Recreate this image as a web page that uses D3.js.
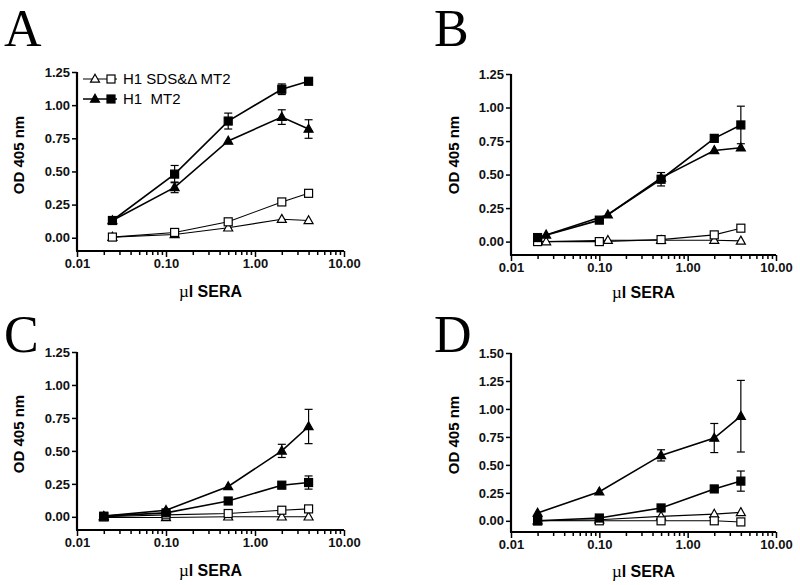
<!DOCTYPE html>
<html>
<head>
<meta charset="utf-8">
<script src="https://cdn.jsdelivr.net/npm/d3@7"></script>
<style>
  body { margin: 0; background: #fff; }
  svg { display: block; }
</style>
</head>
<body>
<svg id="chart" width="800" height="585"></svg>
<script>
// ---------------- DATA ----------------
const panelLetters = ["A", "B", "C", "D"];
const yTicksABC = [0, 0.25, 0.5, 0.75, 1.0, 1.25];
const yTicksD = [0, 0.25, 0.5, 0.75, 1.0, 1.25, 1.5];
const xTickLabels = ["0.01", "0.10", "1.00", "10.00"];
const legendLabels = ["H1 SDS&\u0394 MT2", "H1  MT2"];

// Panel A
const xA = [0.025, 0.125, 0.5, 2, 4];
const A_openTri = [0.005, 0.025, 0.075, 0.14, 0.13];
const A_openSq = [0.005, 0.04, 0.12, 0.27, 0.335];
const A_fillTri = [0.13, 0.38, 0.73, 0.91, 0.82];
const A_fillTriErr = [0, 0.04, 0, 0.055, 0.07];
const A_fillSq = [0.13, 0.48, 0.88, 1.12, 1.18];
const A_fillSqErr = [0, 0.065, 0.06, 0.04, 0];

// Panel B
const xB_sq = [0.02, 0.1, 0.5, 2, 4];
const xB_tri = [0.025, 0.125, 0.5, 2, 4];
const B_openTri = [0.0, 0.01, 0.01, 0.01, 0.005];
const B_openSq = [0.0, 0.0, 0.015, 0.05, 0.10];
const B_fillTri = [0.05, 0.2, 0.475, 0.68, 0.70];
const B_fillTriErr = [0, 0, 0, 0, 0];
const B_fillSq = [0.03, 0.16, 0.465, 0.77, 0.87];
const B_fillSqErr = [0, 0, 0.05, 0, 0.14];

// Panel C
const xC = [0.02, 0.1, 0.5, 2, 4];
const C_openTri = [-0.005, -0.005, 0.0, 0.0, 0.0];
const C_openSq = [0.0, 0.015, 0.025, 0.05, 0.06];
const C_fillTri = [0.005, 0.05, 0.23, 0.50, 0.685];
const C_fillTriErr = [0, 0, 0, 0.05, 0.13];
const C_fillSq = [0.005, 0.03, 0.12, 0.24, 0.26];
const C_fillSqErr = [0, 0, 0, 0.02, 0.05];

// Panel D
const xD = [0.02, 0.1, 0.5, 2, 4];
const D_openTri = [0.0, 0.01, 0.04, 0.06, 0.075];
const D_openSq = [0.0, 0.0, 0.0, 0.0, -0.01];
const D_fillTri = [0.07, 0.26, 0.585, 0.74, 0.935];
const D_fillTriErr = [0, 0, 0.05, 0.13, 0.32];
const D_fillSq = [0.0, 0.025, 0.115, 0.285, 0.355];
const D_fillSqErr = [0, 0, 0, 0, 0.09];

// ---------------- LAYOUT ----------------
const panels = [
  { letter: panelLetters[0], L: 77, R: 344, T: 72, B: 251, ymax: 1.25, yticks: yTicksABC, legend: true,
    series: [
      { x: xA, y: A_openTri, shape: "tri", fill: false },
      { x: xA, y: A_openSq, shape: "sq", fill: false },
      { x: xA, y: A_fillTri, err: A_fillTriErr, shape: "tri", fill: true },
      { x: xA, y: A_fillSq, err: A_fillSqErr, shape: "sq", fill: true }
    ], letterPos: [4, 46], ylabPos: [20, 155], xlabY: 297 },
  { letter: panelLetters[1], L: 511, R: 776, T: 74, B: 255, ymax: 1.25, yticks: yTicksABC, legend: false,
    series: [
      { x: xB_tri, y: B_openTri, shape: "tri", fill: false },
      { x: xB_sq, y: B_openSq, shape: "sq", fill: false },
      { x: xB_tri, y: B_fillTri, err: B_fillTriErr, shape: "tri", fill: true },
      { x: xB_sq, y: B_fillSq, err: B_fillSqErr, shape: "sq", fill: true }
    ], letterPos: [434, 46], ylabPos: [455, 155], xlabY: 298 },
  { letter: panelLetters[2], L: 77, R: 344, T: 352, B: 530, ymax: 1.25, yticks: yTicksABC, legend: false,
    series: [
      { x: xC, y: C_openTri, shape: "tri", fill: false },
      { x: xC, y: C_openSq, shape: "sq", fill: false },
      { x: xC, y: C_fillTri, err: C_fillTriErr, shape: "tri", fill: true },
      { x: xC, y: C_fillSq, err: C_fillSqErr, shape: "sq", fill: true }
    ], letterPos: [4, 352], ylabPos: [20, 434], xlabY: 576 },
  { letter: panelLetters[3], L: 511, R: 776, T: 353, B: 532, ymax: 1.5, yticks: yTicksD, legend: false,
    series: [
      { x: xD, y: D_openTri, shape: "tri", fill: false },
      { x: xD, y: D_openSq, shape: "sq", fill: false },
      { x: xD, y: D_fillTri, err: D_fillTriErr, shape: "tri", fill: true },
      { x: xD, y: D_fillSq, err: D_fillSqErr, shape: "sq", fill: true }
    ], letterPos: [434, 352], ylabPos: [455, 435], xlabY: 577 }
];

const svg = d3.select("#chart");
const SANS = "'Liberation Sans', Arial, sans-serif";
const SERIF = "'Liberation Serif', 'Times New Roman', serif";

function marker(g, shape, fill, cx, cy) {
  if (shape === "sq") {
    const s = 8;
    g.append("rect").attr("x", cx - s / 2).attr("y", cy - s / 2).attr("width", s).attr("height", s)
      .attr("fill", fill ? "#000" : "#fff").attr("stroke", "#000").attr("stroke-width", 1.2);
  } else {
    const h = 8, w = 9;
    g.append("path")
      .attr("d", `M${cx},${cy - h * 0.6} L${cx + w / 2},${cy + h * 0.4} L${cx - w / 2},${cy + h * 0.4} Z`)
      .attr("fill", fill ? "#000" : "#fff").attr("stroke", "#000").attr("stroke-width", 1.2);
  }
}

panels.forEach(p => {
  const x = d3.scaleLog().domain([0.01, 10]).range([p.L, p.R]);
  const y = d3.scaleLinear().domain([-0.1, p.ymax]).range([p.B, p.T]);
  const g = svg.append("g");

  // panel letter
  g.append("text").attr("x", p.letterPos[0]).attr("y", p.letterPos[1])
    .attr("font-family", SERIF).attr("font-size", 52).attr("fill", "#000").text(p.letter);

  // x axis (log, minor ticks)
  const xAxis = d3.axisBottom(x)
    .tickValues([0.01,0.02,0.03,0.04,0.05,0.06,0.07,0.08,0.09,0.1,0.2,0.3,0.4,0.5,0.6,0.7,0.8,0.9,1,2,3,4,5,6,7,8,9,10])
    .tickSize(4).tickSizeOuter(0)
    .tickFormat(d => {
      const i = [0.01, 0.1, 1, 10].findIndex(v => Math.abs(v - d) < 1e-9);
      return i >= 0 ? xTickLabels[i] : "";
    });
  const gx = g.append("g").attr("transform", `translate(0,${p.B})`).call(xAxis);
  gx.select(".domain").attr("stroke-width", 2.2).attr("d", `M${p.L - 1},0H${p.R}`);
  gx.selectAll(".tick line").attr("stroke-width", 1.5)
    .attr("y2", d => ([0.01, 0.1, 1, 10].some(v => Math.abs(v - d) < 1e-9) ? 6 : 4));
  gx.selectAll(".tick text").attr("font-family", SANS).attr("font-size", 13).attr("font-weight", "bold")
    .attr("y", 8).attr("fill", "#111");

  // y axis
  const yAxis = d3.axisLeft(y).tickValues(p.yticks).tickSize(5).tickSizeOuter(0).tickFormat(d3.format(".2f"));
  const gy = g.append("g").attr("transform", `translate(${p.L},0)`).call(yAxis);
  gy.select(".domain").attr("stroke-width", 2.2).attr("d", `M0,${p.T}V${p.B}`);
  gy.selectAll(".tick line").attr("stroke-width", 1.5);
  gy.selectAll(".tick text").attr("font-family", SANS).attr("font-size", 13).attr("font-weight", "bold")
    .attr("x", -7).attr("fill", "#111");

  // axis titles
  g.append("text").attr("transform", `translate(${p.ylabPos[0]},${p.ylabPos[1]}) rotate(-90)`)
    .attr("text-anchor", "middle").attr("dominant-baseline", "middle")
    .attr("font-family", SANS).attr("font-weight", "bold").attr("font-size", 15).text("OD 405 nm");
  const xl = g.append("text").attr("x", (p.L + p.R) / 2).attr("y", p.xlabY).attr("text-anchor", "middle")
    .attr("font-size", 16).attr("font-weight", "bold").attr("font-family", SANS);
  xl.append("tspan").attr("font-family", SERIF).attr("font-weight", "normal").attr("font-size", 17).text("\u00b5");
  xl.append("tspan").text("l SERA");

  // lines
  const line = d3.line().x(d => x(d[0])).y(d => y(d[1]));
  p.series.forEach(s => {
    const pts = s.x.map((xv, i) => [xv, s.y[i]]);
    g.append("path").datum(pts).attr("d", line).attr("fill", "none").attr("stroke", "#000")
      .attr("stroke-width", s.fill ? 1.6 : 1.1);
  });
  // error bars
  p.series.forEach(s => {
    if (!s.err) return;
    s.x.forEach((xv, i) => {
      const e = s.err[i];
      if (!e) return;
      const cx = x(xv), y0 = y(s.y[i] - e), y1 = y(s.y[i] + e);
      g.append("line").attr("x1", cx).attr("x2", cx).attr("y1", y0).attr("y2", y1).attr("stroke", "#000").attr("stroke-width", 1.2);
      [y0, y1].forEach(yy => g.append("line").attr("x1", cx - 4).attr("x2", cx + 4).attr("y1", yy).attr("y2", yy)
        .attr("stroke", "#000").attr("stroke-width", 1.2));
    });
  });
  // markers
  p.series.forEach(s => {
    s.x.forEach((xv, i) => marker(g, s.shape, s.fill, x(xv), y(s.y[i])));
  });

  // legend
  if (p.legend) {
    const rows = [{ fill: false, y: 79 }, { fill: true, y: 99 }];
    rows.forEach((r, i) => {
      g.append("line").attr("x1", 83).attr("x2", 117).attr("y1", r.y).attr("y2", r.y)
        .attr("stroke", "#000").attr("stroke-width", r.fill ? 1.6 : 1.1);
      marker(g, "tri", r.fill, 95, r.y);
      marker(g, "sq", r.fill, 111, r.y);
      g.append("text").attr("x", 123).attr("y", r.y + 5).attr("font-family", SANS).attr("font-size", 15)
        .style("white-space", "pre").attr("xml:space", "preserve")
        .text(legendLabels[i]);
    });
  }
});
</script>
</body>
</html>
